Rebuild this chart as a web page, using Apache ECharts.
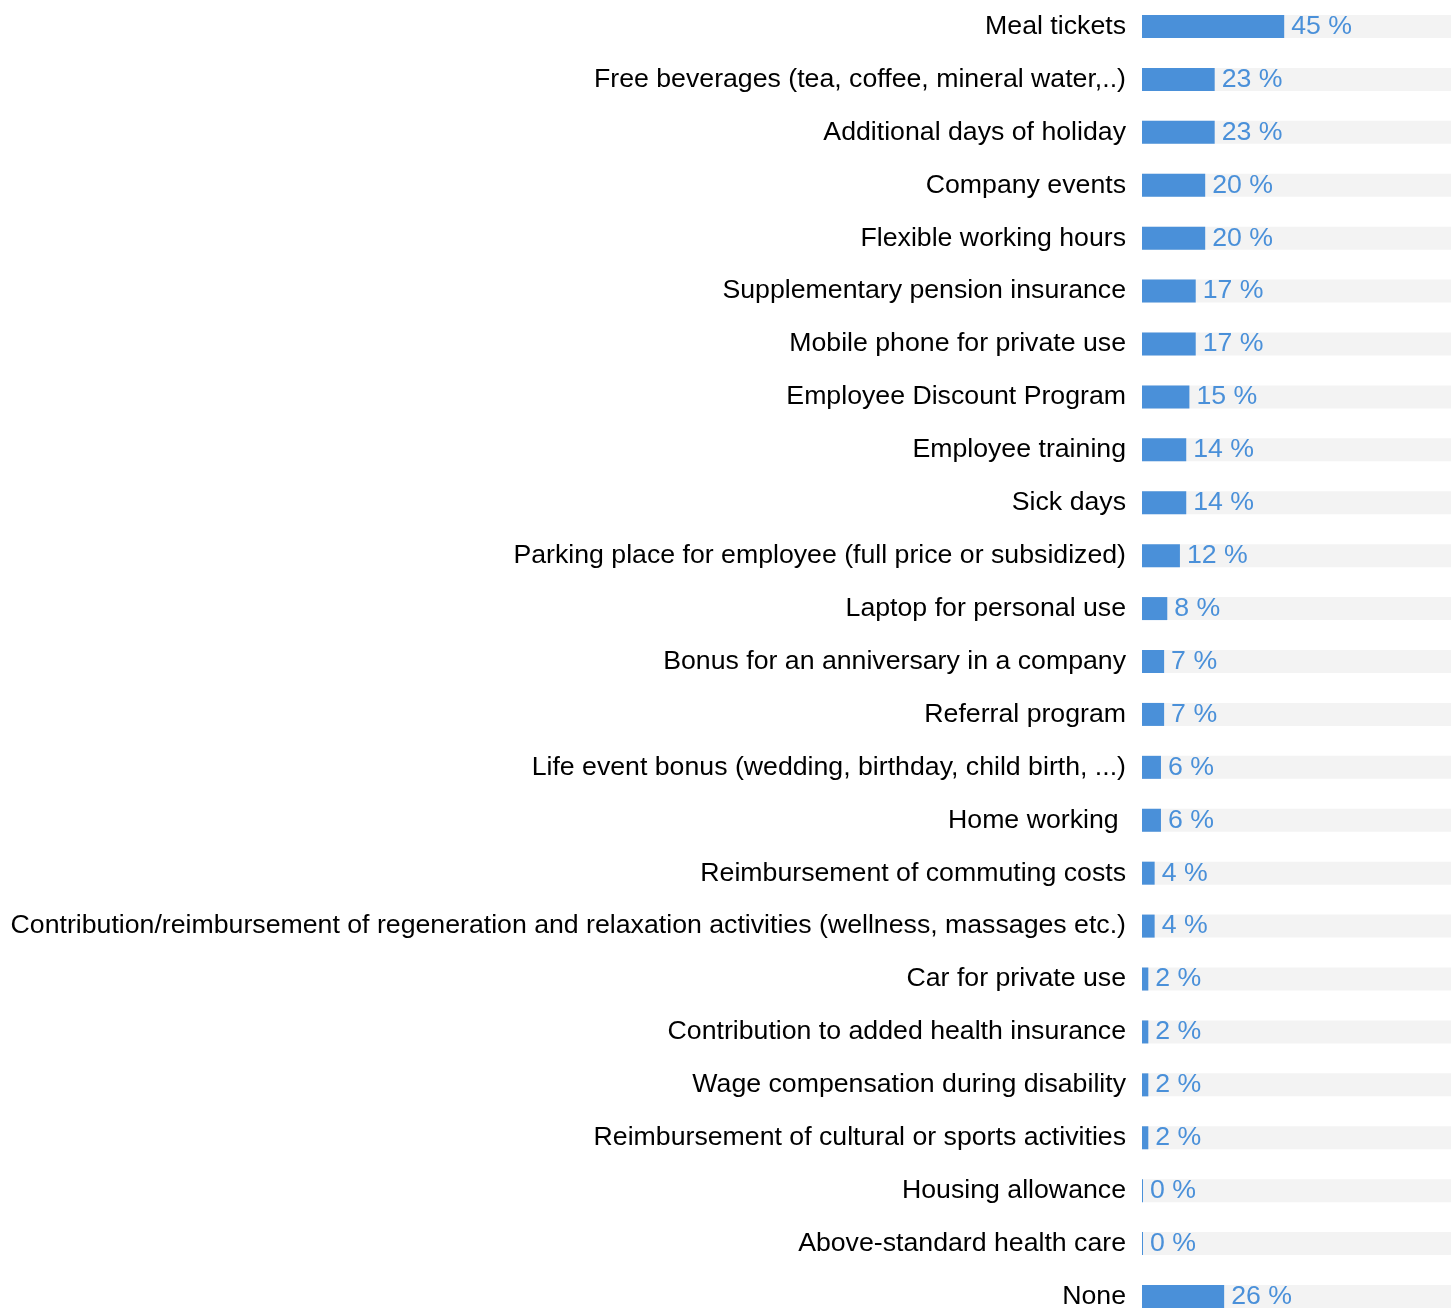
<!DOCTYPE html>
<html>
<head>
<meta charset="utf-8">
<script src="https://cdn.jsdelivr.net/npm/echarts@6/dist/echarts.min.js"></script>
<style>
  html, body { margin: 0; padding: 0; background: #fff; }
  #chart { width: 1451px; height: 1309px; }
</style>
</head>
<body>
<div id="chart"></div>
<script>
// benefits, top to bottom
const benefits = [
  'Meal tickets',
  'Free beverages (tea, coffee, mineral water,..)',
  'Additional days of holiday',
  'Company events',
  'Flexible working hours',
  'Supplementary pension insurance',
  'Mobile phone for private use',
  'Employee Discount Program',
  'Employee training',
  'Sick days',
  'Parking place for employee (full price or subsidized)',
  'Laptop for personal use',
  'Bonus for an anniversary in a company',
  'Referral program',
  'Life event bonus (wedding, birthday, child birth, ...)',
  'Home working ',
  'Reimbursement of commuting costs',
  'Contribution/reimbursement of regeneration and relaxation activities (wellness, massages etc.)',
  'Car for private use',
  'Contribution to added health insurance',
  'Wage compensation during disability',
  'Reimbursement of cultural or sports activities',
  'Housing allowance',
  'Above-standard health care',
  'None'
];

// share of answers in %
const shares = [45, 23, 23, 20, 20, 17, 17, 15, 14, 14, 12, 8, 7, 7, 6, 6, 4, 4, 2, 2, 2, 2, 0, 0, 26];

const chart = echarts.init(document.getElementById('chart'));

const option = {
  animation: false,
  grid: {
    left: 1142,
    top: 0,
    width: 316,   // 100 % runs a bit past the window edge
    height: 1323, // last row is cut by the bottom edge
    outerBoundsMode: 'none',
    containLabel: false
  },
  xAxis: {
    type: 'value',
    min: 0,
    max: 100,
    show: false
  },
  yAxis: {
    type: 'category',
    inverse: true,
    data: benefits,
    axisLine: { show: false },
    axisTick: { show: false },
    axisLabel: {
      margin: 16,
      fontSize: 26.7,
      padding: [4, 0, 0, 0],
      fontFamily: 'Liberation Sans, Arial, sans-serif',
      color: '#000'
    }
  },
  series: [
    {
      type: 'bar',
      data: shares,
      barWidth: 23,
      barMinHeight: 1,
      showBackground: true,
      backgroundStyle: { color: '#f3f3f3' },
      itemStyle: { color: '#4a90d9' },
      label: {
        show: true,
        position: 'right',
        distance: 7,
        formatter: '{c} %',
        fontSize: 26.7,
        padding: [4, 0, 0, 0],
        fontFamily: 'Liberation Sans, Arial, sans-serif',
        color: '#4a90d9'
      }
    }
  ]
};

chart.setOption(option);
</script>
</body>
</html>
